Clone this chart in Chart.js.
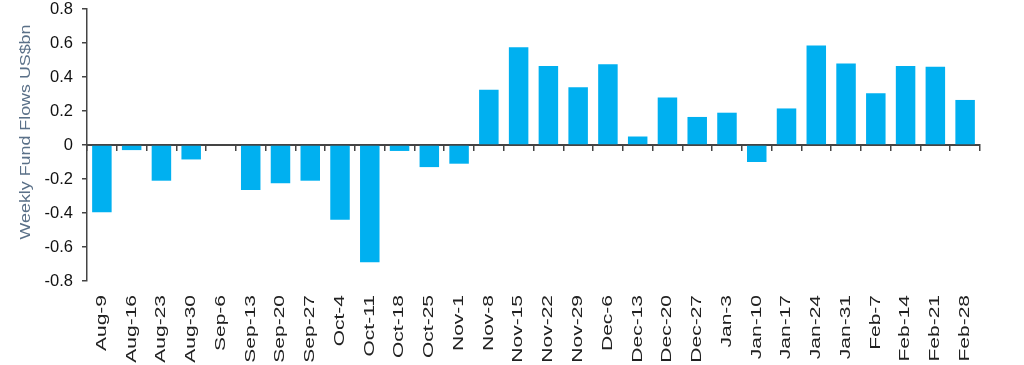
<!DOCTYPE html>
<html>
<head>
<meta charset="utf-8">
<script src="https://cdn.jsdelivr.net/npm/chart.js@4/dist/chart.umd.min.js"></script>
<style>
  html, body { margin: 0; padding: 0; background: #fff; }
  #wrap { width: 1024px; height: 365px; position: relative; }
</style>
</head>
<body>
<div id="wrap"><canvas id="flowChart"></canvas></div>
<script>
// Weekly fund flows, US$bn
const weeks = ["Aug-9", "Aug-16", "Aug-23", "Aug-30", "Sep-6", "Sep-13", "Sep-20", "Sep-27",
    "Oct-4", "Oct-11", "Oct-18", "Oct-25", "Nov-1", "Nov-8", "Nov-15", "Nov-22", "Nov-29",
    "Dec-6", "Dec-13", "Dec-20", "Dec-27", "Jan-3", "Jan-10", "Jan-17", "Jan-24", "Jan-31",
    "Feb-7", "Feb-14", "Feb-21", "Feb-28"];
const flows = [-0.395, -0.03, -0.21, -0.085, 0, -0.265, -0.225, -0.21,
    -0.44, -0.69, -0.035, -0.13, -0.11, 0.325, 0.575, 0.465, 0.34,
    0.475, 0.05, 0.28, 0.165, 0.19, -0.1, 0.215, 0.585, 0.48,
    0.305, 0.465, 0.46, 0.265];
const yTicks = [0.8, 0.6, 0.4, 0.2, 0, -0.2, -0.4, -0.6, -0.8];
const yTitle = "Weekly Fund Flows US$bn";

const axisColor = "#444";
const barColor = "#00b0f0";

// rotated, slightly stretched labels (week names + y title)
const labelPlugin = {
    id: "labels",
    afterDraw(chart) {
        const ctx = chart.ctx;
        const area = chart.chartArea;
        const xs = chart.scales.x;
        ctx.save();
        ctx.fillStyle = "#222";
        ctx.font = "14px 'Liberation Sans', Arial, sans-serif";
        ctx.textAlign = "right";
        ctx.textBaseline = "middle";
        weeks.forEach((w, i) => {
            ctx.save();
            ctx.translate(xs.getPixelForTick(i), area.bottom + 14);
            ctx.rotate(-Math.PI / 2);
            ctx.scale(1.5, 1);
            ctx.fillText(w, 0, 0);
            ctx.restore();
        });
        ctx.save();
        ctx.fillStyle = "#5a7088";
        ctx.font = "15px 'Liberation Sans', Arial, sans-serif";
        ctx.textAlign = "center";
        ctx.translate(area.left - 61, (area.top + area.bottom) / 2 - 13);
        ctx.rotate(-Math.PI / 2);
        ctx.scale(1.19, 1);
        ctx.fillText(yTitle, 0, 0);
        ctx.restore();
        ctx.restore();
    }
};

const ctx = document.getElementById("flowChart").getContext("2d");
const chart = new Chart(ctx, {
    type: "bar",
    data: {
        labels: weeks,
        datasets: [{
            label: yTitle,
            data: flows,
            backgroundColor: barColor,
            borderWidth: 0,
            barPercentage: 0.655,
            categoryPercentage: 1
        }]
    },
    options: {
        responsive: true,
        maintainAspectRatio: false,
        animation: false,
        devicePixelRatio: 1,
        layout: { padding: { top: 0, right: 44, bottom: 84, left: 0 } },
        plugins: { legend: { display: false }, tooltip: { enabled: false } },
        scales: {
            x: {
                position: { y: 0 },
                afterFit(scale) { scale.height = 0; },
                ticks: { display: false },
                grid: { drawOnChartArea: false, drawTicks: true, tickLength: 5, color: axisColor, lineWidth: 1.5 },
                border: { display: true, color: axisColor, width: 2 }
            },
            y: {
                min: -0.8,
                max: 0.8,
                afterFit(scale) {
                    scale.width = 87;
                    scale.paddingTop = 9;
                    scale.paddingBottom = 9;
                },
                afterBuildTicks(scale) { scale.ticks = yTicks.map(v => ({ value: v })); },
                ticks: {
                    color: "#111",
                    padding: 9,
                    font: { family: "'Liberation Sans', Arial, sans-serif", size: 16.5 },
                    callback: v => String(+v.toFixed(1))
                },
                grid: { drawOnChartArea: false, drawTicks: true, tickLength: 5, color: axisColor, lineWidth: 1.5 },
                border: { display: true, color: axisColor, width: 1.5 }
            }
        }
    },
    plugins: [labelPlugin]
});
</script>
</body>
</html>
